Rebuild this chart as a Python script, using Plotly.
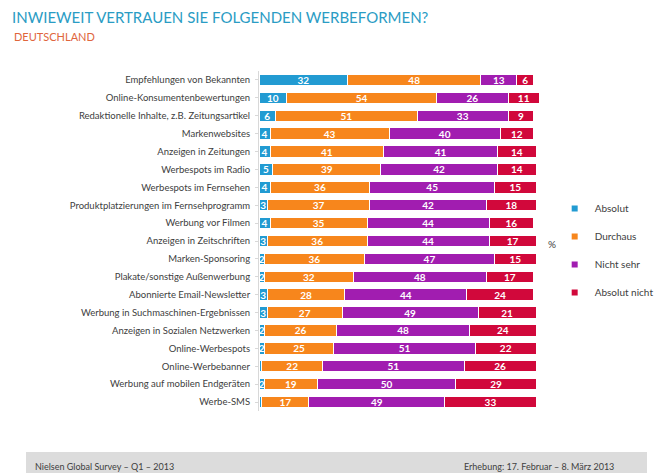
import plotly.graph_objects as go

# categories top -> bottom
categories = [
    "Empfehlungen von Bekannten",
    "Online-Konsumentenbewertungen",
    "Redaktionelle Inhalte, z.B. Zeitungsartikel",
    "Markenwebsites",
    "Anzeigen in Zeitungen",
    "Werbespots im Radio",
    "Werbespots im Fernsehen",
    "Produktplatzierungen im Fernsehprogramm",
    "Werbung vor Filmen",
    "Anzeigen in Zeitschriften",
    "Marken-Sponsoring",
    "Plakate/sonstige Außenwerbung",
    "Abonnierte Email-Newsletter",
    "Werbung in Suchmaschinen-Ergebnissen",
    "Anzeigen in Sozialen Netzwerken",
    "Online-Werbespots",
    "Online-Werbebanner",
    "Werbung auf mobilen Endgeräten",
    "Werbe-SMS",
]
absolut = [32, 10, 6, 4, 4, 5, 4, 3, 4, 3, 2, 2, 3, 3, 2, 2, 1, 2, 1]
durchaus = [48, 54, 51, 43, 41, 39, 36, 37, 35, 36, 36, 32, 28, 27, 26, 25, 22, 19, 17]
nicht_sehr = [13, 26, 33, 40, 41, 42, 45, 42, 44, 44, 47, 48, 44, 49, 48, 51, 51, 50, 49]
absolut_nicht = [6, 11, 9, 12, 14, 14, 15, 18, 16, 17, 15, 17, 24, 21, 24, 22, 26, 29, 33]

series = [
    ("Absolut", absolut, "#229bd2"),
    ("Durchaus", durchaus, "#f7861c"),
    ("Nicht sehr", nicht_sehr, "#a11db0"),
    ("Absolut nicht", absolut_nicht, "#d1083b"),
]

FONT = "Lato, Open Sans, sans-serif"

fig = go.Figure()
for i, (name, vals, col) in enumerate(series):
    # labels only where the segment is wide enough
    txt = [str(v) if v >= 2 else "" for v in vals]
    fig.add_bar(
        y=categories, x=vals, name=name, orientation="h",
        marker=dict(color=col, line=dict(color="white", width=1)),
        text=txt, textposition="inside", insidetextanchor="middle",
        textangle=0, constraintext="none",
        textfont=dict(color="white", size=10, family=FONT, weight="bold"),
        showlegend=False, cliponaxis=False,
    )
    # small square legend entry
    fig.add_scatter(
        x=[None], y=[None], mode="markers", name=name,
        marker=dict(symbol="square", size=6, color=col),
        legendgroup=f"g{i}",
    )

# page body has an 8px margin, so the figure is 8px smaller each way
fig.update_layout(
    width=654, height=465,
    barmode="stack", bargap=0.36,
    plot_bgcolor="white", paper_bgcolor="white",
    margin=dict(l=251, r=123, t=63, b=62, autoexpand=False),
    font=dict(family=FONT, size=9.5, color="#404040"),
    uniformtext=dict(minsize=6, mode="show"),
    showlegend=True,
    legend=dict(
        x=1.056, xanchor="left", y=0.638, yanchor="top",
        tracegroupgap=9, itemwidth=30,
        font=dict(size=10, color="#404040"),
    ),
    title=dict(
        text="INWIEWEIT VERTRAUEN SIE FOLGENDEN WERBEFORMEN?",
        x=4 / 654, xanchor="left", y=0.978, yanchor="middle",
        font=dict(size=15, color="#2a9cc4", family=FONT),
    ),
)
fig.update_xaxes(range=[0, 101], visible=False)
fig.update_yaxes(
    autorange="reversed", showline=True, linecolor="#d8d8d8", linewidth=1,
    ticks="outside", tickcolor="#d8d8d8", ticklen=3, ticklabelstandoff=3,
    showgrid=False,
)

fig.add_annotation(
    text="DEUTSCHLAND", xref="paper", yref="paper", x=-247 / 280, y=1 + 34 / 340,
    xanchor="left", yanchor="middle", showarrow=False,
    font=dict(size=11, color="#e0663c", family=FONT),
)
fig.add_annotation(
    text="%", xref="paper", yref="paper", x=1.025, y=0.49,
    xanchor="left", yanchor="middle", showarrow=False,
    font=dict(size=10, color="#404040"),
)

# footer band
fig.add_shape(
    type="rect", xref="paper", yref="paper", x0=-233 / 280, x1=388 / 280,
    y0=-62 / 340, y1=-41 / 340, fillcolor="#dcdcdc", line=dict(width=0),
    layer="below",
)
fig.add_annotation(
    text="Nielsen Global Survey – Q1 – 2013", xref="paper", yref="paper",
    x=-226 / 280, y=-55 / 340, xanchor="left", yanchor="middle", showarrow=False,
    font=dict(size=9, color="#404040"),
)
fig.add_annotation(
    text="Erhebung: 17. Februar – 8. März 2013", xref="paper", yref="paper",
    x=357 / 280, y=-55 / 340, xanchor="right", yanchor="middle", showarrow=False,
    font=dict(size=9, color="#404040"),
)

fig.write_html("out.html")
